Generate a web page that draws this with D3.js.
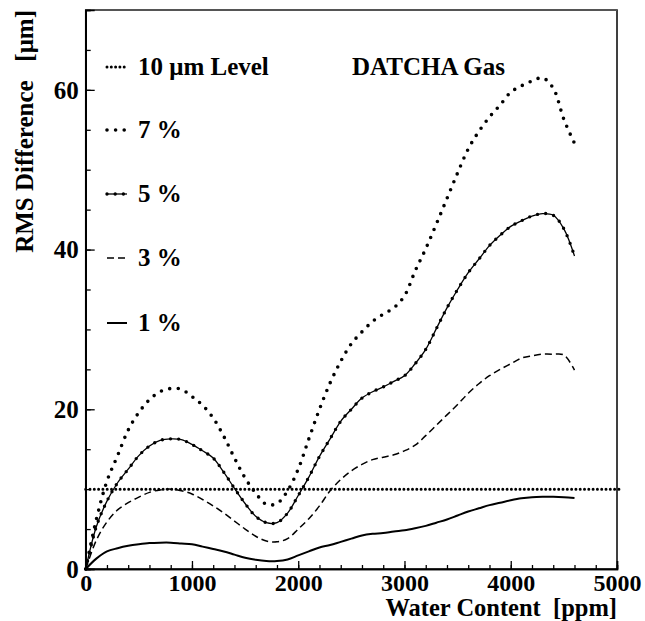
<!DOCTYPE html>
<html><head><meta charset="utf-8">
<script src="https://cdn.jsdelivr.net/npm/d3@7"></script>
<style>
body{margin:0;background:#fff;}
text{font-family:"Liberation Serif","Times New Roman",serif;font-weight:bold;fill:#000;}
</style></head>
<body><svg id="c" width="645" height="621"></svg>
<script>
const water = [0,100,200,300,400,500,600,700,800,900,1000,1100,1200,1300,1400,1500,1600,1700,1800,1900,2000,2100,2200,2300,2400,2500,2600,2700,2800,2900,3000,3100,3200,3300,3400,3500,3600,3700,3800,3900,4000,4100,4200,4300,4400,4500,4600];
const rms7 = [0,6.2,11.0,14.2,17.4,19.6,21.2,22.2,22.6,22.5,21.6,20.5,18.9,16.6,13.9,11.4,9.5,8.1,8.2,9.8,12.5,16.3,20.0,23.3,26.0,28.2,29.7,31.0,31.9,32.7,34.2,37.3,40.1,43.2,46.4,49.6,52.6,54.8,56.6,58.1,59.7,60.5,61.1,61.5,60.2,56.3,53.3];
const rms5 = [0,5.3,8.5,10.8,12.5,14.2,15.4,16.1,16.3,16.2,15.6,14.8,13.9,12.1,10.1,8.2,6.6,5.8,5.8,7.0,9.2,11.5,14.1,16.3,18.5,20.0,21.4,22.2,22.8,23.5,24.2,25.7,27.5,30.1,32.7,35.0,37.1,38.8,40.5,41.8,42.9,43.6,44.2,44.5,44.3,42.6,39.2];
const rms3 = [0,3.6,5.9,7.4,8.3,9.0,9.6,9.9,10.0,9.8,9.4,8.7,7.9,7.0,6.0,5.0,4.1,3.5,3.4,3.8,5.0,6.3,7.9,9.8,11.2,12.3,13.1,13.7,14.0,14.3,14.8,15.5,16.7,18.0,19.3,20.6,22.0,23.2,24.2,25.0,25.7,26.4,26.7,26.9,26.9,26.8,24.9];
const rms1 = [0,1.3,2.2,2.6,2.9,3.1,3.25,3.3,3.3,3.2,3.1,2.8,2.5,2.2,1.8,1.4,1.15,1.0,1.0,1.2,1.7,2.2,2.7,3.0,3.4,3.8,4.2,4.4,4.5,4.7,4.85,5.1,5.4,5.8,6.2,6.7,7.2,7.6,8.0,8.3,8.6,8.85,9.0,9.05,9.05,9.0,8.9];
const levelValue = 10;
const xTicks = [0,1000,2000,3000,4000,5000];
const yTicks = [0,20,40,60];
const legendLabels = ["10 \u03bcm Level","7 %","5 %","3 %","1 %"];
const legendKeys = ["level","p7","p5","p3","p1"];
const gasLabel = "DATCHA Gas";
const xTitle = "Water Content  [ppm]";
const yTitle = "RMS Difference   [\u03bcm]";

const svg = d3.select("#c");
const L=85.7, R=617, T=10, B=569;
const x = d3.scaleLinear().domain([0,5000]).range([L,R]);
const y = d3.scaleLinear().domain([0,70]).range([B,T]);

// frame
svg.append("rect").attr("x",L).attr("y",T).attr("width",R-L).attr("height",B-T)
  .attr("fill","none").attr("stroke","#000").attr("stroke-width",1.5);
svg.append("line").attr("x1",L).attr("x2",R).attr("y1",T).attr("y2",T).attr("stroke","#555").attr("stroke-width",2);

// axes
const xMinor = svg.append("g").attr("transform",`translate(0,${B})`)
  .call(d3.axisBottom(x).tickValues(d3.range(0,5001,200)).tickSize(-4).tickFormat(""));
const xMajor = svg.append("g").attr("transform",`translate(0,${B})`)
  .call(d3.axisBottom(x).tickValues(xTicks).tickSize(-8).tickPadding(0).tickFormat(d3.format("d")));
const yMinor = svg.append("g").attr("transform",`translate(${L},0)`)
  .call(d3.axisLeft(y).tickValues(d3.range(0,71,5)).tickSize(-5).tickFormat(""));
const yMajor = svg.append("g").attr("transform",`translate(${L},0)`)
  .call(d3.axisLeft(y).tickValues(yTicks).tickSize(-9).tickPadding(7).tickFormat(d3.format("d")));
[xMinor,xMajor,yMinor,yMajor].forEach(g=>{
  g.select(".domain").attr("stroke","#000").attr("stroke-width",1.5);
  g.selectAll(".tick line").attr("stroke","#000").attr("stroke-width",1.3);
});
xMajor.selectAll(".tick text").attr("font-size",24).attr("y",22).attr("dy",0)
  .style("font-family","'Liberation Serif',serif").style("font-weight","bold");
yMajor.selectAll(".tick text").attr("font-size",25).attr("dy","0.33em")
  .style("font-family","'Liberation Serif',serif").style("font-weight","bold");

// titles
svg.append("text").attr("x",R).attr("y",616).attr("text-anchor","end")
  .attr("font-size",24.5).style("white-space","pre").text(xTitle);
svg.append("text").attr("transform",`translate(33,${T}) rotate(-90)`).attr("text-anchor","end")
  .attr("font-size",25).style("white-space","pre").text(yTitle);

// styles
const styles = {
  level:{w:3, dash:"0,4.3", cap:"round"},
  p7:{w:3.6, dash:"0,8.6", cap:"round"},
  p5:{w:1.3, dash:null, cap:"butt", dots:{w:3.4, dash:"0,8.2"}},
  p3:{w:1.5, dash:"7,4", cap:"butt"},
  p1:{w:2, dash:null, cap:"butt"}
};
function drawPath(g, d, st){
  const p = g.append("path").attr("d",d).attr("fill","none").attr("stroke","#000")
    .attr("stroke-width",st.w).attr("stroke-linecap",st.cap);
  if(st.dash) p.attr("stroke-dasharray",st.dash);
  if(st.dots) g.append("path").attr("d",d).attr("fill","none").attr("stroke","#000")
    .attr("stroke-width",st.dots.w).attr("stroke-linecap","round").attr("stroke-dasharray",st.dots.dash);
}

const line = d3.line().x(d=>x(d[0])).y(d=>y(d[1])).curve(d3.curveCatmullRom.alpha(0.5));
const series = {p7:rms7,p5:rms5,p3:rms3,p1:rms1};
const plot = svg.append("g");
// 10 um level
drawPath(plot, d3.line()([[x(0),y(levelValue)],[x(5000)+2,y(levelValue)]]), styles.level);
Object.keys(series).forEach(k=>{
  drawPath(plot, line(water.map((w,i)=>[w,series[k][i]])), styles[k]);
});

// legend
const legY = [75,138,202,266,331];
legendKeys.forEach((k,i)=>{
  const ly = legY[i]-8;
  drawPath(svg, `M107,${ly}L127,${ly}`, styles[k]);
  svg.append("text").attr("x",138).attr("y",legY[i]).attr("font-size",25).text(legendLabels[i]);
});
svg.append("text").attr("x",352).attr("y",75).attr("font-size",25).text(gasLabel);
</script></body></html>
